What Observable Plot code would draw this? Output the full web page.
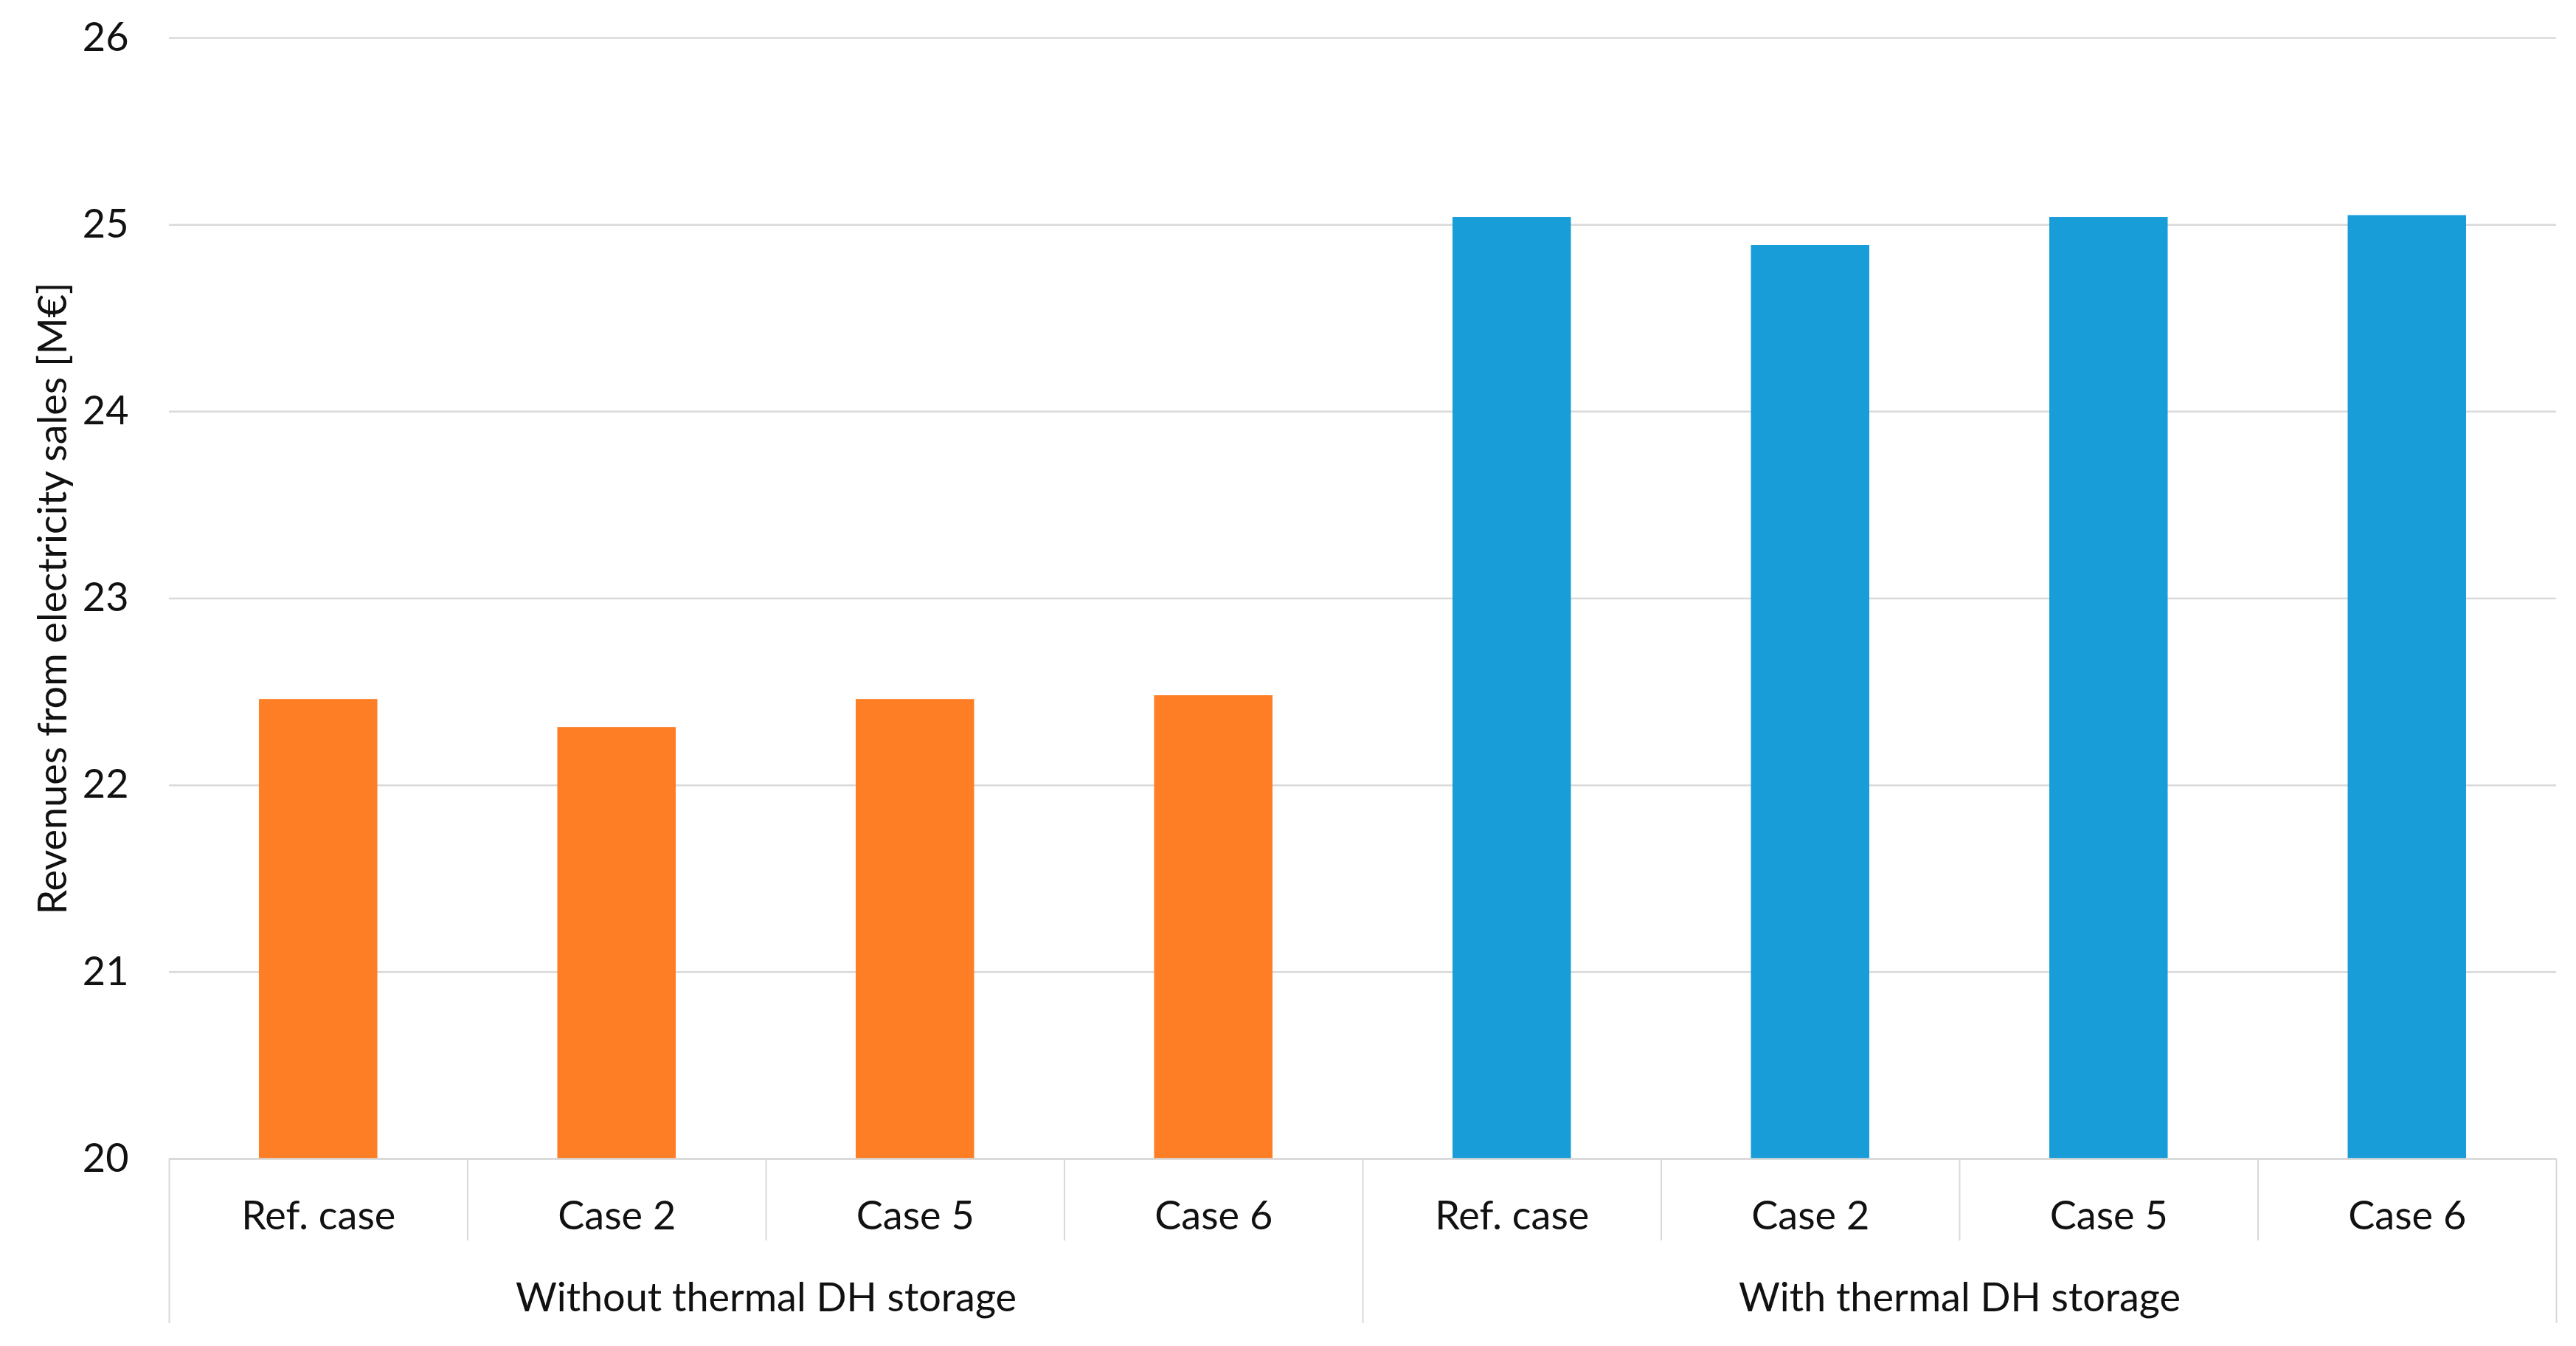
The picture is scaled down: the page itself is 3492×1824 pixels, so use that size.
<!DOCTYPE html>
<html>
<head>
<meta charset="utf-8">
<script src="https://cdn.jsdelivr.net/npm/d3@7"></script>
<script src="https://cdn.jsdelivr.net/npm/@observablehq/plot@0.6"></script>
<style>
  html, body { margin: 0; padding: 0; background: #fff; }
  #chart svg { display: block; }
</style>
</head>
<body>
<div id="chart"></div>
<script>
const groups = ["Without thermal DH storage", "With thermal DH storage"];
const cases = ["Ref. case", "Case 2", "Case 5", "Case 6"];
const withoutStorage = [22.46, 22.31, 22.46, 22.48];
const withStorage = [25.04, 24.89, 25.04, 25.05];
const yTicks = [20, 21, 22, 23, 24, 25, 26];
const groupColors = ["#FD7E25", "#199DD8"];
const yLabel = "Revenues from electricity sales [M€]";

const series = [withoutStorage, withStorage];
const rows = [];
groups.forEach((g, gi) => {
  cases.forEach((c, ci) => {
    const i = gi * cases.length + ci;
    rows.push({group: g, case: c, value: series[gi][ci], i0: i, i1: i + 1});
  });
});
const n = rows.length;
const centers = rows.map(r => r.i0 + 0.5);
const innerBounds = d3.range(0, n + 1).filter(b => b % cases.length !== 0);
const groupBounds = d3.range(0, n + 1).filter(b => b % cases.length === 0);
const groupCenters = groups.map((g, gi) => gi * cases.length + cases.length / 2);

const font = "Lato, 'Open Sans', sans-serif";
const fs = 54;

const chart = Plot.plot({
  width: 3492,
  height: 1824,
  marginLeft: 229,
  marginRight: 27,
  marginTop: 51,
  marginBottom: 254,
  style: {fontFamily: font, fontSize: fs + "px", color: "#111", background: "#fff"},
  x: {type: "linear", domain: [0, n]},
  y: {domain: [20, 26]},
  color: {domain: groups, range: groupColors},
  marks: [
    Plot.gridY(yTicks, {stroke: "#d9d9d9", strokeOpacity: 1, strokeWidth: 2.5}),
    Plot.rectY(rows, {x1: "i0", x2: "i1", y1: 20, y2: "value", fill: "group", insetLeft: 122, insetRight: 122}),
    Plot.axisY(yTicks, {tickSize: 0, tickPadding: 55, fontSize: fs, tickFormat: d3.format("d"), label: yLabel, labelAnchor: "center", labelOffset: 178, labelArrow: "none"}),
    Plot.axisX(innerBounds, {tickSize: 111, stroke: "#d9d9d9", strokeWidth: 2, fill: "none", label: null}),
    Plot.axisX(groupBounds, {tickSize: 223, stroke: "#d9d9d9", strokeWidth: 2, fill: "none", label: null}),
    Plot.axisX(centers, {tickSize: 0, tickPadding: 57, fontSize: fs, tickFormat: d => cases[Math.floor(d) % cases.length], label: null}),
    Plot.axisX(groupCenters, {tickSize: 0, tickPadding: 168, fontSize: fs, tickFormat: d => groups[Math.floor(d / cases.length)], label: null}),
    Plot.ruleY([20], {stroke: "#d9d9d9", strokeWidth: 2.5})
  ]
});
document.getElementById("chart").appendChild(chart);
</script>
</body>
</html>
